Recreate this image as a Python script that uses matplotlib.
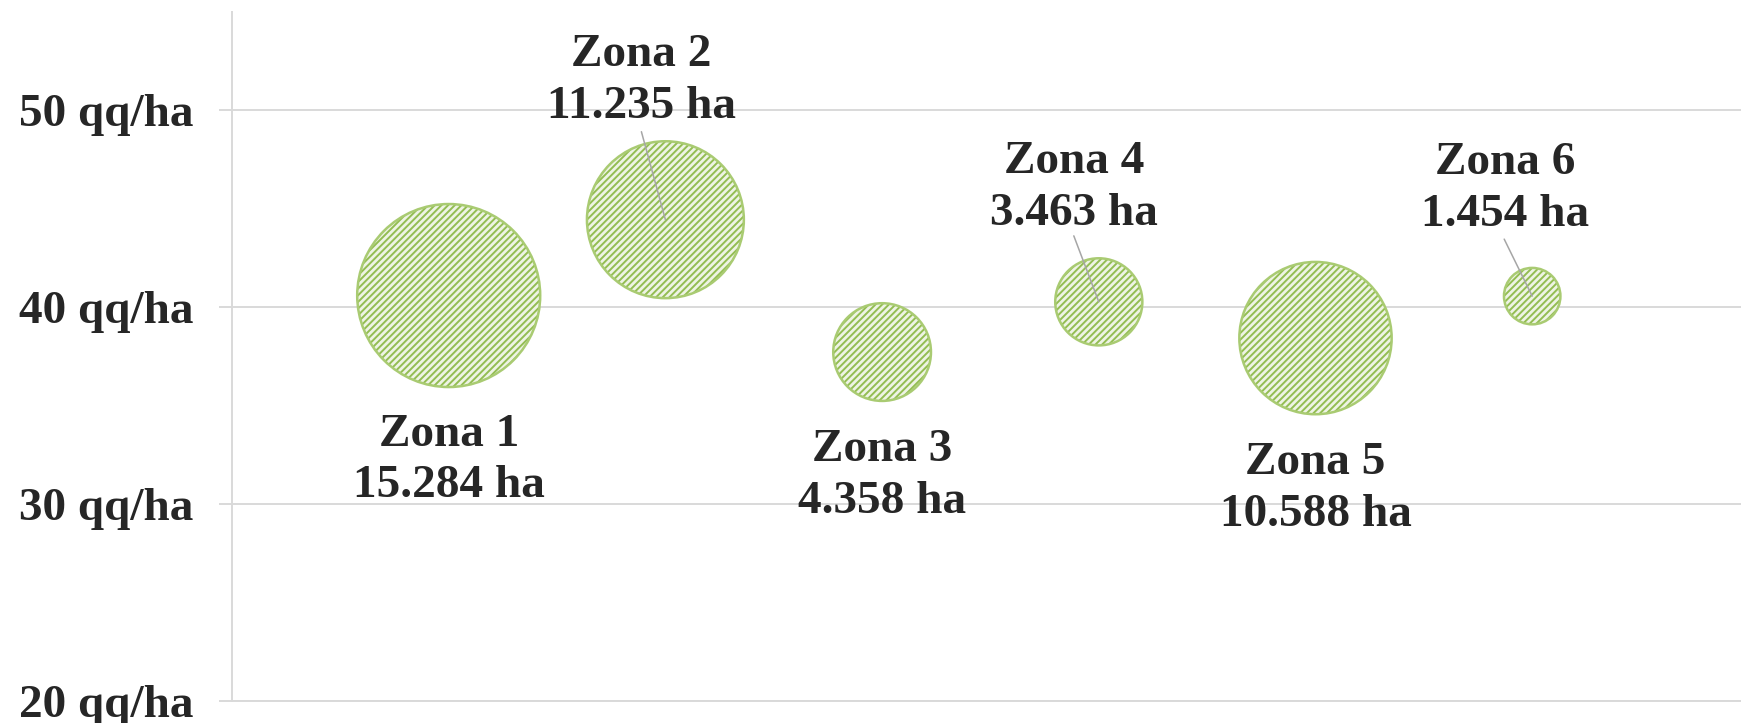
import matplotlib
matplotlib.use("Agg")
import matplotlib.pyplot as plt

# ---- data ----
zones = ["Zona 1", "Zona 2", "Zona 3", "Zona 4", "Zona 5", "Zona 6"]
x_pos = [1, 2, 3, 4, 5, 6]
yield_qq = [40.6, 44.45, 37.73, 40.28, 38.44, 40.57]
area_ha = [15.284, 11.235, 4.358, 3.463, 10.588, 1.454]
area_labels = ["15.284 ha", "11.235 ha", "4.358 ha", "3.463 ha", "10.588 ha", "1.454 ha"]
y_ticks = [20, 30, 40, 50]
y_ticklabels = ["20 qq/ha", "30 qq/ha", "40 qq/ha", "50 qq/ha"]

# label offsets (pixels, relative to bubble centre) and leader starts
label_offsets = [(0, -165), (-24, 139), (0, -124), (-25, 114), (0, -151), (-27, 107)]
leader_starts = [None, (-24, 88), None, (-25, 66), None, (-28, 57)]

plt.rcParams["hatch.linewidth"] = 1.4
plt.rcParams["hatch.color"] = "#93BD52"

W, H, DPI = 1741, 723, 100
fig = plt.figure(figsize=(W / DPI, H / DPI), dpi=DPI, facecolor="white")
ax = fig.add_axes([232 / W, 21.7 / H, 7 * 216.7 / W, 689.8 / H])

font = dict(family=["Liberation Serif", "DejaVu Serif"], weight="bold", color="#262626")
fs = 34

size_k = 1136.0
sizes = [a * size_k for a in area_ha]

# base fill
ax.scatter(x_pos, yield_qq, s=sizes, facecolor="#EEF4E4", edgecolor="none", zorder=3)
# hatch
ax.scatter(x_pos, yield_qq, s=sizes, facecolor="none", edgecolor="#93BD52",
           linewidth=0, hatch="/////", zorder=4)
# edge
ax.scatter(x_pos, yield_qq, s=sizes, facecolor="none", edgecolor="#A9CB72",
           linewidth=1.8, zorder=5)

for i in range(len(zones)):
    dx, dy = label_offsets[i]
    ax.annotate(f"{zones[i]}\n{area_labels[i]}", xy=(x_pos[i], yield_qq[i]),
                xytext=(dx, dy), textcoords="offset pixels",
                ha="center", va="center", fontsize=fs, linespacing=1.3,
                zorder=7, **font)
    if leader_starts[i] is not None:
        sx, sy = leader_starts[i]
        ax.annotate("", xy=(x_pos[i], yield_qq[i]), xytext=(sx, sy),
                    textcoords="offset pixels",
                    arrowprops=dict(arrowstyle="-", color="#A6A6A6", lw=1.1,
                                    shrinkA=0, shrinkB=0),
                    zorder=6)

ax.set_xlim(0, 7)
ax.set_ylim(20, 55.02)
ax.set_xticks([])
ax.set_yticks(y_ticks)
ax.set_yticklabels(y_ticklabels, fontsize=fs, fontfamily=font["family"],
                   fontweight="bold", color="#262626")
ax.tick_params(axis="y", length=9.4, width=1.4, color="#D9D9D9", pad=18.5)
ax.grid(axis="y", color="#D9D9D9", linewidth=1.4)
ax.set_axisbelow(True)
for s in ["top", "right"]:
    ax.spines[s].set_visible(False)
ax.spines["left"].set_color("#D9D9D9")
ax.spines["left"].set_linewidth(1.4)
ax.spines["bottom"].set_color("#D9D9D9")
ax.spines["bottom"].set_linewidth(1.4)
ax.set_facecolor("none")

fig.savefig("out.png", dpi=DPI, facecolor="white")
